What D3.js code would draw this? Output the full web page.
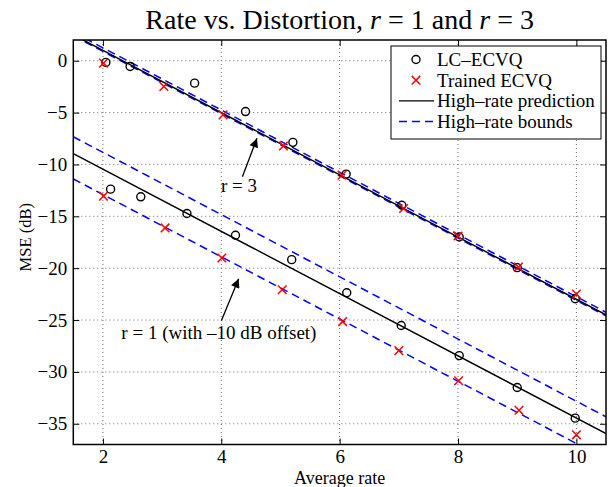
<!DOCTYPE html>
<html>
<head>
<meta charset="utf-8">
<script src="https://cdn.jsdelivr.net/npm/d3@7"></script>
<style>
  body { margin: 0; background: #fff; }
  svg text { font-family: "Liberation Serif", "Times New Roman", serif; fill: #000; }
</style>
</head>
<body>
<div id="chart"></div>
<script>
// r = 3, LC-ECVQ (circles)
const lcRate3 = [2.05, 2.46, 3.55, 4.41, 5.21, 6.11, 7.05, 8.02, 9.0, 9.98];
const lcMse3 = [-0.16, -0.55, -2.16, -4.9, -7.87, -10.93, -13.93, -16.99, -19.95, -22.95];
// r = 3, trained ECVQ (crosses)
const trRate3 = [2.01, 3.03, 4.03, 5.05, 6.04, 7.08, 8.0, 9.02, 10.0];
const trMse3 = [-0.23, -2.48, -5.22, -8.22, -11.03, -14.25, -16.9, -19.9, -22.5];
// r = 1 (with -10 dB offset)
const lcRate1 = [2.13, 2.64, 3.42, 4.24, 5.19, 6.12, 7.04, 8.02, 9.0, 9.98];
const lcMse1 = [-12.38, -13.12, -14.73, -16.83, -19.18, -22.37, -25.53, -28.43, -31.5, -34.46];
const trRate1 = [2.01, 3.05, 4.01, 5.03, 6.05, 7.0, 8.01, 9.03, 10.0];
const trMse1 = [-13.06, -16.12, -19.02, -22.08, -25.15, -27.95, -30.85, -33.7, -36.07];

// high-rate lines, value at each end of lineRate
const lineRate = [1.5, 10.5];
const predR3 = [2.5, -24.5];
const upperR3 = [2.75, -24.25];
const lowerR3 = [2.4, -24.6];
const predR1 = [-8.95, -35.95];
const upperR1 = [-7.33, -34.33];
const lowerR1 = [-11.4, -38.4];

const xTicks = [2, 4, 6, 8, 10];
const yTicks = [0, -5, -10, -15, -20, -25, -30, -35];
const legendLabels = ["LC\u2013ECVQ", "Trained ECVQ", "High\u2013rate prediction", "High\u2013rate bounds"];

// annotations: text anchor point and arrow tail/tip, in data units
const noteText = ["r = 3", "r = 1 (with \u201310 dB offset)"];
const noteX = [4.3, 3.96];
const noteY = [-12.64, -26.79];
const arrowFrom = [[4.357, -11.19], [4.003, -25.05]];
const arrowTo = [[4.603, -7.48], [4.294, -21.02]];

var W = 612, H = 487;
var pL = 73.3, pR = 606, pT = 40, pB = 444.5;

var svg = d3.select("#chart").append("svg").attr("width", W).attr("height", H);

var x = d3.scaleLinear().domain([1.5, 10.5]).range([pL, pR]);
var y = d3.scaleLinear().domain([-37, 2]).range([pB, pT]);

var defs = svg.append("defs");
defs.append("clipPath").attr("id", "plotclip")
  .append("rect").attr("x", pL).attr("y", pT)
  .attr("width", pR - pL).attr("height", pB - pT);

// dotted grid
var grid = svg.append("g").attr("class", "grid")
  .attr("stroke", "#6e6e6e").attr("stroke-width", 1).attr("stroke-dasharray", "1,3");
grid.selectAll(".gx").data(xTicks).enter().append("line")
  .attr("x1", d => x(d)).attr("x2", d => x(d)).attr("y1", pT).attr("y2", pB);
grid.selectAll(".gy").data(yTicks).enter().append("line")
  .attr("x1", pL).attr("x2", pR).attr("y1", d => y(d)).attr("y2", d => y(d));

// axes (ticks point inward, matlab style)
var fmt = d3.format("d");
svg.append("g").attr("transform", `translate(0,${pB})`)
  .call(d3.axisBottom(x).tickValues(xTicks).tickSize(-6).tickPadding(5).tickFormat(fmt));
svg.append("g").attr("transform", `translate(0,${pT})`)
  .call(d3.axisTop(x).tickValues(xTicks).tickSize(-6).tickFormat(""));
svg.append("g").attr("transform", `translate(${pL},0)`)
  .call(d3.axisLeft(y).tickValues(yTicks).tickSize(-6).tickPadding(6).tickFormat(fmt));
svg.append("g").attr("transform", `translate(${pR},0)`)
  .call(d3.axisRight(y).tickValues(yTicks).tickSize(-6).tickFormat(""));
svg.selectAll(".domain").remove();
svg.selectAll(".tick line").attr("stroke", "#000").attr("stroke-width", 1);
svg.selectAll(".tick text").style("font-size", "19px").attr("fill", "#000");

var plot = svg.append("g").attr("clip-path", "url(#plotclip)");

var line = d3.line().x(d => x(d[0])).y(d => y(d[1]));

function drawLine(vals, dashed) {
  plot.append("path")
    .attr("d", line(d3.zip(lineRate, vals)))
    .attr("fill", "none")
    .attr("stroke", dashed ? "#0000ff" : "#000")
    .attr("stroke-width", dashed ? 1.5 : 1.4)
    .attr("stroke-dasharray", dashed ? "8,5" : null);
}
drawLine(upperR3, true);
drawLine(lowerR3, true);
drawLine(predR3, false);
drawLine(upperR1, true);
drawLine(lowerR1, true);
drawLine(predR1, false);

function circles(xs, ys) {
  svg.append("g").selectAll("circle").data(d3.zip(xs, ys)).enter().append("circle")
    .attr("cx", d => x(d[0])).attr("cy", d => y(d[1])).attr("r", 4)
    .attr("fill", "none").attr("stroke", "#000").attr("stroke-width", 1.4);
}
var cs = 4.3;
function crosses(xs, ys) {
  svg.append("g").selectAll("path").data(d3.zip(xs, ys)).enter().append("path")
    .attr("d", d => {
      var px = x(d[0]), py = y(d[1]);
      return `M${px - cs},${py - cs}L${px + cs},${py + cs}M${px - cs},${py + cs}L${px + cs},${py - cs}`;
    })
    .attr("stroke", "#ff0000").attr("stroke-width", 1.5).attr("fill", "none");
}
circles(lcRate3, lcMse3);
crosses(trRate3, trMse3);
circles(lcRate1, lcMse1);
crosses(trRate1, trMse1);

// box
svg.append("rect").attr("x", pL).attr("y", pT)
  .attr("width", pR - pL).attr("height", pB - pT)
  .attr("fill", "none").attr("stroke", "#000").attr("stroke-width", 1.5);

// arrows
defs.append("marker").attr("id", "head")
  .attr("viewBox", "0 0 10 10").attr("refX", 10).attr("refY", 5)
  .attr("markerWidth", 14).attr("markerHeight", 9).attr("markerUnits", "userSpaceOnUse")
  .attr("orient", "auto")
  .append("path").attr("d", "M0,0L10,5L0,10z").attr("fill", "#000");

arrowFrom.forEach((a, i) => {
  svg.append("line")
    .attr("x1", x(a[0])).attr("y1", y(a[1]))
    .attr("x2", x(arrowTo[i][0])).attr("y2", y(arrowTo[i][1]))
    .attr("stroke", "#000").attr("stroke-width", 1.3)
    .attr("marker-end", "url(#head)");
});
svg.selectAll(".note").data(noteText).enter().append("text")
  .attr("class", "note")
  .attr("x", (d, i) => x(noteX[i])).attr("y", (d, i) => y(noteY[i]))
  .attr("text-anchor", "middle").style("font-size", "19px")
  .text(d => d);

// legend
var lg = svg.append("g").attr("class", "legend");
var lgLeft = 391, lgTop = 46, lgW = 210, lgH = 93, rowH = 20.7;
lg.append("rect").attr("x", lgLeft).attr("y", lgTop).attr("width", lgW).attr("height", lgH)
  .attr("fill", "#fff").attr("stroke", "#000").attr("stroke-width", 1);
legendLabels.forEach((lab, i) => {
  var cy = lgTop + 13.5 + i * rowH;
  var cx = lgLeft + 25;
  if (i == 0) {
    lg.append("circle").attr("cx", cx).attr("cy", cy).attr("r", 4)
      .attr("fill", "none").attr("stroke", "#000").attr("stroke-width", 1.4);
  } else if (i == 1) {
    lg.append("path")
      .attr("d", `M${cx - cs},${cy - cs}L${cx + cs},${cy + cs}M${cx - cs},${cy + cs}L${cx + cs},${cy - cs}`)
      .attr("stroke", "#ff0000").attr("stroke-width", 1.5);
  } else {
    lg.append("line").attr("x1", lgLeft + 8).attr("x2", lgLeft + 43)
      .attr("y1", cy).attr("y2", cy)
      .attr("stroke", i == 2 ? "#000" : "#0000ff").attr("stroke-width", i == 2 ? 1.4 : 1.5)
      .attr("stroke-dasharray", i == 2 ? null : "8,5");
  }
  lg.append("text").attr("x", lgLeft + 46).attr("y", cy + 6.5)
    .style("font-size", "19px").text(lab);
});

// title and axis labels
var title = svg.append("text").attr("x", (pL + pR) / 2).attr("y", 29)
  .attr("text-anchor", "middle").style("font-size", "28px");
title.append("tspan").text("Rate vs. Distortion, ");
title.append("tspan").style("font-style", "italic").text("r");
title.append("tspan").text(" = 1 and ");
title.append("tspan").style("font-style", "italic").text("r");
title.append("tspan").text(" = 3");

svg.append("text").attr("x", (pL + pR) / 2).attr("y", 483.5)
  .attr("text-anchor", "middle").style("font-size", "18px").text("Average rate");
svg.append("text")
  .attr("transform", `translate(31,${(pT + pB) / 2 - 5}) rotate(-90)`)
  .attr("text-anchor", "middle").style("font-size", "16.5px").text("MSE (dB)");
</script>
</body>
</html>
